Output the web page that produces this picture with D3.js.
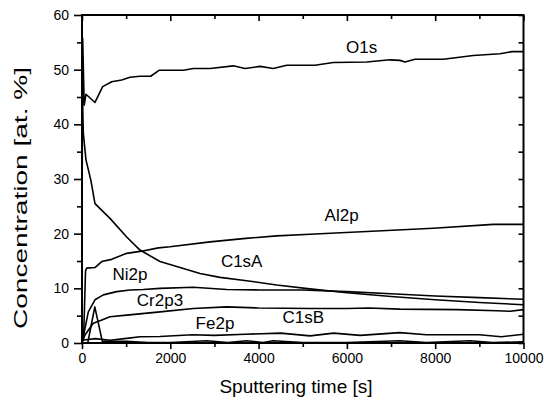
<!DOCTYPE html>
<html>
<head>
<meta charset="utf-8">
<script src="https://cdn.jsdelivr.net/npm/d3@7"></script>
<style>
  body { margin: 0; background: #fff; }
  text { font-family: Arial, "Liberation Sans", sans-serif; fill: #000; }
</style>
</head>
<body>
<div id="chart"></div>
<script>
// Sputtering time [s], concentration [at. %]
const o1s = [[0,20],[15,55.8],[50,43.5],[90,45.5],[294,44],[468,46.9],[672,47.8],[898,48.1],[1087,48.6],[1314,48.8],[1555,48.8],[1752,49.9],[2296,49.9],[2522,50.2],[2900,50.2],[3428,50.7],[3692,50.2],[4032,50.6],[4334,50.2],[4636,50.8],[5277,50.8],[5692,51.3],[6449,51.4],[6976,51.8],[7203,51.7],[7316,51.4],[7542,51.9],[8184,51.9],[8863,52.6],[9468,52.9],[9733,53.3],[10000,53.3]];
const al2p = [[0,0],[40,2],[80,13.2],[105,13.7],[294,13.8],[446,14.9],[672,15.3],[1012,16.4],[1352,16.8],[1729,17.4],[1993,17.6],[2900,18.5],[3654,19.1],[4410,19.6],[5164,19.9],[6449,20.4],[7957,21.0],[9316,21.7],[10000,21.7]];
const c1sA = [[0,47],[30,38.4],[90,33.5],[200,29.8],[294,25.5],[634,22.8],[1012,19.4],[1314,17.0],[1767,14.9],[2220,13.8],[2673,12.7],[3126,12.0],[3730,11.4],[4410,10.6],[5164,9.9],[6000,9.2],[7000,8.5],[8000,7.9],[9000,7.4],[10000,7.0]];
const ni2p = [[0,0],[143,5.7],[294,7.9],[483,8.8],[785,9.4],[1087,9.7],[1390,9.8],[1767,10.0],[2522,10.2],[3277,9.8],[4032,9.7],[5000,9.7],[6000,9.4],[7000,9.0],[8000,8.6],[9000,8.3],[10000,8.0]];
const cr2p3 = [[0,0],[70,1.5],[256,3.6],[450,4.2],[634,4.8],[1012,5.1],[1767,5.7],[2522,6.3],[3277,6.6],[4000,6.4],[5164,6.3],[6000,6.3],[6500,6.4],[7200,6.2],[8500,6.1],[9400,5.9],[9700,5.8],[10000,6.1]];
const fe2p = [[0,0.5],[300,0.8],[634,0.5],[1012,0.85],[1314,1.15],[1767,1.2],[2500,1.5],[3000,1.4],[3700,1.6],[4500,1.8],[5164,1.3],[5700,1.8],[6300,1.4],[7200,1.9],[7800,1.5],[9000,1.5],[9500,1.15],[10000,1.6]];
const c1sB = [[0,0],[130,0],[290,6.6],[460,0.3],[1000,0.3],[1500,0.1],[2000,0.1],[2824,0.4],[3300,0.1],[3730,0.4],[4100,0.1],[4334,0.4],[5000,0.1],[6000,0.1],[7200,0.4],[7800,0.1],[8788,0.4],[9300,0.1],[10000,0.2]];

const series = [o1s, al2p, c1sA, ni2p, cr2p3, fe2p, c1sB];
const labelNames = ["O1s", "Al2p", "C1sA", "Ni2p", "Cr2p3", "Fe2p", "C1sB"];
const labelAt = [[6335,54.2],[5880,23.4],[3617,14.9],[1087,12.6],[1767,7.87],[3012,3.71],[5013,4.7]];

const xTicks = [0, 2000, 4000, 6000, 8000, 10000];
const xMinor = [1000, 3000, 5000, 7000, 9000];
const yTicks = [0, 10, 20, 30, 40, 50, 60];
const yMinor = [5, 15, 25, 35, 45, 55];

const W = 544, H = 407;
const margin = { top: 15, right: 20.5, bottom: 64, left: 82 };

const svg = d3.select("#chart").append("svg")
    .attr("width", W)
    .attr("height", H);

const x = d3.scaleLinear().domain([0, 10000]).range([margin.left, W - margin.right]);
const y = d3.scaleLinear().domain([0, 60]).range([H - margin.bottom, margin.top]);

// axes: bottom/left ticks point out, top/right point in
svg.append("g")
    .attr("transform", `translate(0,${y(0)})`)
    .call(d3.axisBottom(x).tickValues(xTicks).tickSize(6).tickPadding(4).tickFormat(d3.format("d")));
svg.append("g")
    .attr("transform", `translate(0,${y(0)})`)
    .call(d3.axisBottom(x).tickValues(xMinor).tickSize(4).tickFormat(""));
svg.append("g")
    .attr("transform", `translate(0,${y(60)})`)
    .call(d3.axisBottom(x).tickValues(xTicks).tickSize(6).tickFormat(""));
svg.append("g")
    .attr("transform", `translate(0,${y(60)})`)
    .call(d3.axisBottom(x).tickValues(xMinor).tickSize(4).tickFormat(""));

svg.append("g")
    .attr("transform", `translate(${x(0)},0)`)
    .call(d3.axisLeft(y).tickValues(yTicks).tickSize(8).tickPadding(5));
svg.append("g")
    .attr("transform", `translate(${x(0)},0)`)
    .call(d3.axisLeft(y).tickValues(yMinor).tickSize(5).tickFormat(""));
svg.append("g")
    .attr("transform", `translate(${x(10000)},0)`)
    .call(d3.axisLeft(y).tickValues(yTicks).tickSize(5).tickFormat(""));
svg.append("g")
    .attr("transform", `translate(${x(10000)},0)`)
    .call(d3.axisLeft(y).tickValues(yMinor).tickSize(5).tickFormat(""));

svg.selectAll(".domain").remove();
svg.selectAll(".tick line").attr("stroke", "#000").attr("stroke-width", 1.6);
svg.selectAll(".tick text")
    .style("font-family", "Arial, 'Liberation Sans', sans-serif")
    .style("font-size", "14px")
    .attr("fill", "#000");

// frame
svg.append("rect")
    .attr("x", x(0)).attr("y", y(60))
    .attr("width", x(10000) - x(0)).attr("height", y(0) - y(60))
    .attr("fill", "none").attr("stroke", "#000").attr("stroke-width", 2);

// lines
const line = d3.line().x(d => x(d[0])).y(d => y(d[1]));
svg.append("g").selectAll("path")
    .data(series)
    .enter()
    .append("path")
    .attr("d", line)
    .attr("fill", "none")
    .attr("stroke", "#000")
    .attr("stroke-width", 1.6)
    .attr("stroke-linejoin", "round");

// series labels
svg.append("g").selectAll("text")
    .data(labelNames)
    .enter()
    .append("text")
    .attr("x", (d, i) => x(labelAt[i][0]))
    .attr("y", (d, i) => y(labelAt[i][1]))
    .attr("dy", "0.35em")
    .attr("text-anchor", "middle")
    .style("font-size", "17px")
    .text(d => d);

// axis titles
svg.append("text")
    .attr("x", 296)
    .attr("y", 393)
    .attr("text-anchor", "middle")
    .style("font-size", "19px")
    .text("Sputtering time [s]");

svg.append("text")
    .attr("transform", "translate(27,198) rotate(-90)")
    .attr("text-anchor", "middle")
    .attr("textLength", 262)
    .attr("lengthAdjust", "spacingAndGlyphs")
    .style("font-size", "18px")
    .text("Concentration [at. %]");
</script>
</body>
</html>
